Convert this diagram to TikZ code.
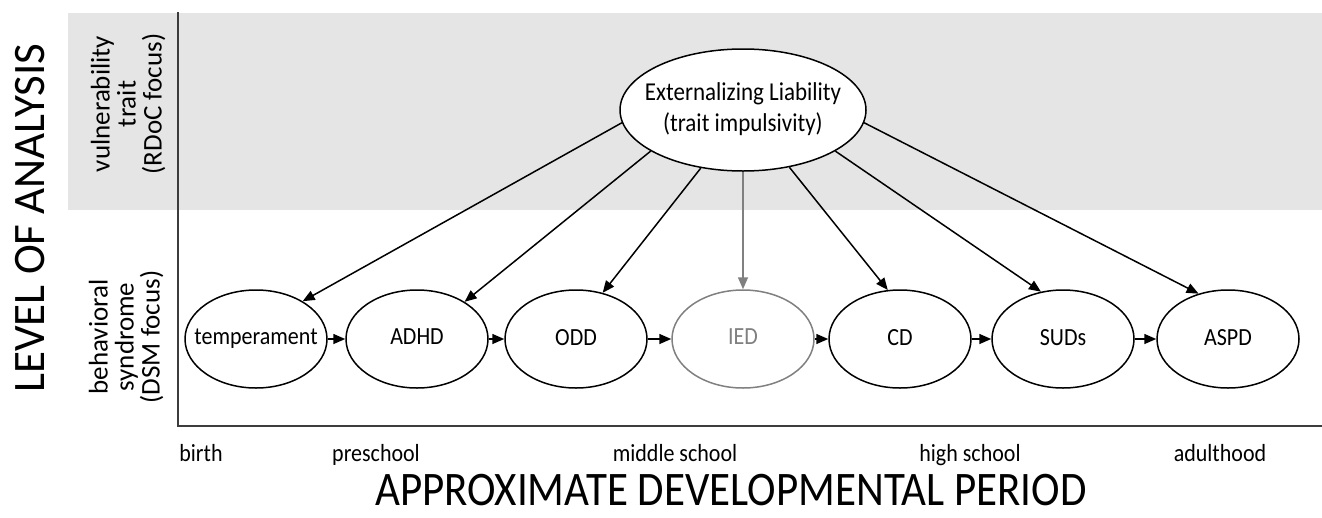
\documentclass[tikz,border=0pt]{standalone}
\usepackage{fontspec}
\setmainfont{Carlito}
\usetikzlibrary{shapes.geometric,arrows.meta}
\definecolor{bandgray}{RGB}{229,229,229}
\definecolor{iedgray}{RGB}{128,128,128}
\definecolor{axisgray}{RGB}{60,60,60}
\newcommand{\vstretch}[1]{\scalebox{1}[1.12]{#1}}
\newcommand{\elltext}[1]{\makebox[0pt]{\vstretch{#1\vphantom{Ap}}}}
\begin{document}
\begin{tikzpicture}[x=1pt,y=-1pt,
  ell/.style={ellipse,draw=black,line width=1.5pt,fill=white,minimum width=142pt,minimum height=98pt,inner sep=0pt,font=\fontsize{22}{26}\selectfont},
  gell/.style={ell,draw=iedgray,text=iedgray},
  arr/.style={line width=1.5pt,-{Triangle[length=12pt,width=10pt]}},
  period/.style={font=\fontsize{22}{26}\selectfont,anchor=base,inner sep=0pt},
  side/.style={font=\fontsize{27}{26}\selectfont,rotate=90,align=center,inner sep=0pt}
]
\useasboundingbox (0,0) rectangle (1322,517);
% background band
\fill[bandgray] (68,13) rectangle (1322,210);
% axes
\coordinate (atop) at (178,12);
\coordinate (aorig) at (178,426);
\coordinate (aend) at (1322,426);
\draw[line width=1.6pt,axisgray] (atop) -- (aorig) -- (aend);

% top node
\node[ell,minimum width=246pt,minimum height=122pt,font=\fontsize{23}{27}\selectfont] (top) at (743,110)
  {\makebox[0pt]{\vstretch{\begin{tabular}{@{}c@{}}Externalizing Liability\\(trait impulsivity)\end{tabular}}}};

% bottom nodes
\node[ell] (tem) at (256,339) {\elltext{temperament}};
\node[ell] (adhd) at (417,339) {\elltext{ADHD}};
\node[ell] (odd) at (576,339) {\elltext{ODD}};
\node[gell] (ied) at (743,339) {\elltext{IED}};
\node[ell] (cd) at (900,339) {\elltext{CD}};
\node[ell] (suds) at (1063,339) {\elltext{SUDs}};
\node[ell] (aspd) at (1228,339) {\elltext{ASPD}};

% horizontal arrows
\draw[arr] (tem.east) -- (adhd.west);
\draw[arr] (adhd.east) -- (odd.west);
\draw[arr] (odd.east) -- (ied.west);
\draw[arr] (ied.east) -- (cd.west);
\draw[arr] (cd.east) -- (suds.west);
\draw[arr] (suds.east) -- (aspd.west);

% arrows from top
\draw[arr] (top.186) -- (tem.39);
\draw[arr] (top.204) -- (adhd.38);
\draw[arr] (top.234) -- (odd.60);
\draw[arr,draw=iedgray,fill=iedgray] (top.south) -- (ied.north);
\draw[arr] (top.309) -- (cd.104);
\draw[arr] (top.336) -- (suds.115);
\draw[arr] (top.354) -- (aspd.123);

% side labels
\node[side] (vul) at (128,104) {vulnerability\\trait\\(RDoC focus)};
\node[side] (beh) at (126,337) {behavioral\\syndrome\\(DSM focus)};
\node[font=\fontsize{45}{54}\selectfont,rotate=90,inner sep=0pt] (ylab) at (30,218) {LEVEL OF ANALYSIS};

% period labels
\node[period] (birth) at (201,461) {\vstretch{birth}};
\node[period] (pre) at (376,461) {\vstretch{preschool}};
\node[period] (mid) at (675,461) {\vstretch{middle school}};
\node[period] (high) at (970,461) {\vstretch{high school}};
\node[period] (adult) at (1220,461) {\vstretch{adulthood}};
\node[font=\fontsize{43}{50}\selectfont,anchor=base,inner sep=0pt] (xlab) at (731,505) {\scalebox{1}[1.12]{APPROXIMATE DEVELOPMENTAL PERIOD}};
\end{tikzpicture}
\end{document}
